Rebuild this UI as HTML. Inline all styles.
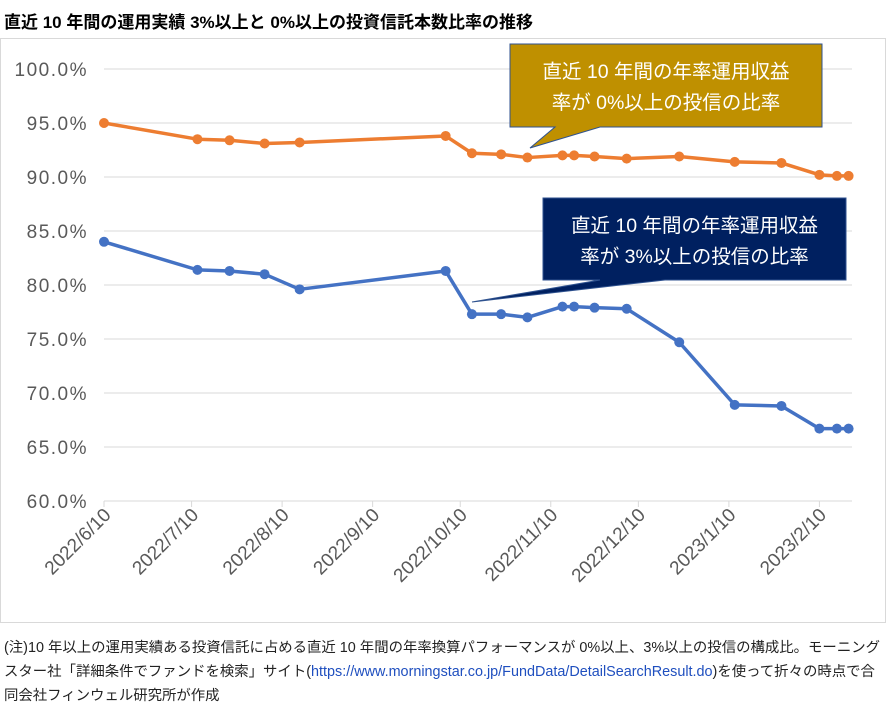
<!DOCTYPE html>
<html><head><meta charset="utf-8"><style>
body{margin:0;background:#fff;width:886px;height:718px;overflow:hidden;font-family:"Liberation Sans","Noto Sans CJK JP",sans-serif}
#title{position:absolute;left:4px;top:8px;font-size:17px;font-weight:bold;color:#000}
#note{position:absolute;left:4px;top:636px;width:882px;font-size:14.4px;line-height:24px;color:#222}
svg{position:absolute;left:0;top:0}
</style></head><body>
<div id="title">直近 10 年間の運用実績 3%以上と 0%以上の投資信託本数比率の推移</div>
<svg id="chart" width="886" height="718"></svg>
<div id="note">(注)10 年以上の運用実績ある投資信託に占める直近 10 年間の年率換算パフォーマンスが 0%以上、3%以上の投信の構成比。モーニングスター社「詳細条件でファンドを検索」サイト(<span style="color:#1f4fbf">https://www.morningstar.co.jp/FundData/DetailSearchResult.do</span>)を使って折々の時点で合同会社フィンウェル研究所が作成</div>
<script>
const dates=["2022-06-10","2022-07-12","2022-07-23","2022-08-04","2022-08-16","2022-10-05","2022-10-14","2022-10-24","2022-11-02","2022-11-14","2022-11-18","2022-11-25","2022-12-06","2022-12-24","2023-01-12","2023-01-28","2023-02-10","2023-02-16","2023-02-20"];
const over0=[95.0,93.5,93.4,93.1,93.2,93.8,92.2,92.1,91.8,92.0,92.0,91.9,91.7,91.9,91.4,91.3,90.2,90.1,90.1];
const over3=[84.0,81.4,81.3,81.0,79.6,81.3,77.3,77.3,77.0,78.0,78.0,77.9,77.8,74.7,68.9,68.8,66.7,66.7,66.7];
const yTicks=[60,65,70,75,80,85,90,95,100];
const xTicks=["2022/6/10","2022/7/10","2022/8/10","2022/9/10","2022/10/10","2022/11/10","2022/12/10","2023/1/10","2023/2/10"];
const svg=document.getElementById('chart');const NS='http://www.w3.org/2000/svg';
function mk(t,a,p){const e=document.createElementNS(NS,t);for(const k in a)e.setAttribute(k,a[k]);(p||svg).appendChild(e);return e;}
const t0=Date.UTC(2022,5,10);
function day(s){const p=s.split(/[-\/]/).map(Number);return (Date.UTC(p[0],p[1]-1,p[2])-t0)/864e5;}
const X=d=>104+d*2.92, Y=v=>501-(v-60)*10.8;
let e=mk('rect',{x:0.5,y:38.5,width:885,height:584,fill:'none',stroke:'#d9d9d9'});

yTicks.forEach(v=>{
 let l=mk('line',{x1:104,x2:852,y1:Y(v),y2:Y(v),stroke:'#d9d9d9'});
 
 let t=mk('text',{x:88,y:Y(v)+7,'text-anchor':'end','font-size':19,'letter-spacing':1.5,fill:'#595959'});t.textContent=v.toFixed(1)+'%';
 
});
xTicks.forEach(s=>{
 const x=X(day(s));
 let l=mk('line',{x1:x,x2:x,y1:501,y2:507,stroke:'#d9d9d9'});
 
 let t=mk('text',{x:x+8,y:516,'text-anchor':'end','font-size':19,fill:'#595959',transform:`rotate(-45 ${x+8} 516)`});t.textContent=s;
 
});
function series(vals,col,name){
 const pts=dates.map((d,i)=>X(day(d))+','+Y(vals[i])).join(' ');
 let p=mk('polyline',{points:pts,fill:'none',stroke:col,'stroke-width':3.5,'stroke-linejoin':'round'});
 
 dates.forEach((d,i)=>{let c=mk('circle',{cx:X(day(d)),cy:Y(vals[i]),r:5,fill:col});
 });
}
series(over0,'#ed7d31','over0');
series(over3,'#4472c4','over3');
function callout(x,y,w,h,px,py,bx1,bx2,col,lines,name){
 const g=mk('g',{});
 mk('path',{d:`M${x},${y}H${x+w}V${y+h}H${bx2}L${px},${py}L${bx1},${y+h}H${x}Z`,fill:col,stroke:'#2f528f','stroke-width':1},g);
 lines.forEach((s,i)=>{const t=mk('text',{x:x+w/2,y:y+34+i*31,'text-anchor':'middle','font-size':19.5,fill:'#fff'},g);t.textContent=s;});
}
callout(510,44,312,83,530,148,555,600,'#bf9000',['直近 10 年間の年率運用収益','率が 0%以上の投信の比率'],'callout-over0');
callout(543,198,303,82,472,302,600,665,'#002060',['直近 10 年間の年率運用収益','率が 3%以上の投信の比率'],'callout-over3');
</script>
</body></html>
